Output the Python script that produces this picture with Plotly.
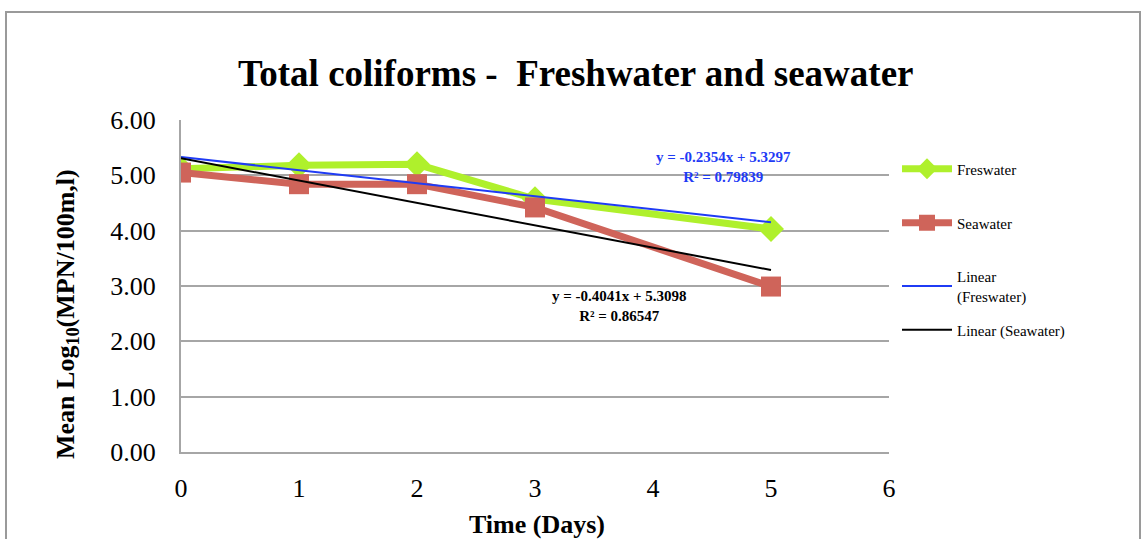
import plotly.graph_objects as go

# Sampling days and mean log10 counts
days = [0, 1, 2, 3, 5]
freshwater = [5.12, 5.18, 5.20, 4.57, 4.03]
seawater = [5.05, 4.84, 4.84, 4.42, 2.99]

# Linear trend coefficients (slope, intercept, R²)
fresh_fit = (-0.2354, 5.3297, 0.79839)
sea_fit = (-0.4041, 5.3098, 0.86547)

x_ticks = [0, 1, 2, 3, 4, 5, 6]
y_ticks = [0, 1, 2, 3, 4, 5, 6]

FONT = "Liberation Serif"
GREEN = "#aff02c"
RED = "#cf645a"
BLUE = "#1f3bf5"

# Plot-area geometry in pixels
W, H = 1147, 539
L, R, T, B = 181, 889, 120, 452


def px(xp):
    return (xp - L) / (R - L)


def py(yp):
    return (B - yp) / (B - T)


def label(xp, yp, text, size, color="black", angle=0):
    fig.add_annotation(
        x=px(xp), y=py(yp), xref="paper", yref="paper", showarrow=False,
        xanchor="center", yanchor="middle", text=text, textangle=angle,
        align="center", font=dict(family=FONT, size=size, color=color))


fit_x = [days[0], days[-1]]

fig = go.Figure()
fig.add_trace(go.Scatter(
    x=days, y=freshwater, name="Freswater", mode="lines+markers",
    line=dict(color=GREEN, width=7),
    marker=dict(symbol="diamond", size=20, color=GREEN),
    legend="legend"))
fig.add_trace(go.Scatter(
    x=days, y=seawater, name="Seawater", mode="lines+markers",
    line=dict(color=RED, width=7),
    marker=dict(symbol="square", size=20, color=RED),
    legend="legend2"))
fig.add_trace(go.Scatter(
    x=fit_x, y=[fresh_fit[0] * v + fresh_fit[1] for v in fit_x],
    name="Linear<br>(Freswater)", mode="lines",
    line=dict(color=BLUE, width=2), legend="legend3"))
fig.add_trace(go.Scatter(
    x=fit_x, y=[sea_fit[0] * v + sea_fit[1] for v in fit_x],
    name="Linear (Seawater)", mode="lines",
    line=dict(color="black", width=2), legend="legend4"))

legend_style = dict(font=dict(family=FONT, size=15, color="black"),
                    bgcolor="rgba(0,0,0,0)", xanchor="left", yanchor="middle",
                    itemwidth=50)
fig.update_layout(
    legend=dict(x=px(897), y=py(169), **legend_style),
    legend2=dict(x=px(897), y=py(223), **legend_style),
    legend3=dict(x=px(897), y=py(286), **legend_style),
    legend4=dict(x=px(897), y=py(330), **legend_style),
)

# Trend-line equations
label(723, 167,
      f"<b>y = {fresh_fit[0]}x + {fresh_fit[1]}<br>R² = {fresh_fit[2]}</b>",
      15, BLUE)
label(619, 306,
      f"<b>y = {sea_fit[0]}x + {sea_fit[1]}<br>R² = {sea_fit[2]}</b>",
      15)

# Title and axis titles
label(576, 73, "<b>Total coliforms -  Freshwater and seawater</b>", 37)
label(537, 524, "<b>Time (Days)</b>", 26)
label(67, 314, "<b>Mean Log<sub>10</sub>(MPN/100m,l)</b>", 26, angle=-90)

# Outer chart frame
fig.add_shape(type="rect", xref="paper", yref="paper",
              x0=px(6), x1=px(1140), y0=py(560), y1=py(12),
              line=dict(color="#9a9a9a", width=2), fillcolor="rgba(0,0,0,0)",
              layer="below")

fig.update_xaxes(
    range=[0, 6], tickvals=x_ticks, ticktext=[str(v) for v in x_ticks],
    showgrid=False, zeroline=False, showline=True, linecolor="#a6a6a6",
    linewidth=2, ticks="", ticklabelstandoff=12,
    tickfont=dict(family=FONT, size=26, color="black"))
fig.update_yaxes(
    range=[0, 6], tickvals=y_ticks, ticktext=[f"{v:.2f}" for v in y_ticks],
    showgrid=True, gridcolor="#a6a6a6", gridwidth=2, zeroline=False,
    showline=True, linecolor="#a6a6a6", linewidth=2, ticks="",
    ticklabelstandoff=18,
    tickfont=dict(family=FONT, size=26, color="black"))

fig.update_layout(
    width=W, height=H,
    margin=dict(l=L, r=W - R, t=T, b=H - B),
    paper_bgcolor="white", plot_bgcolor="white",
    showlegend=True,
)

fig.write_html("out.html")
